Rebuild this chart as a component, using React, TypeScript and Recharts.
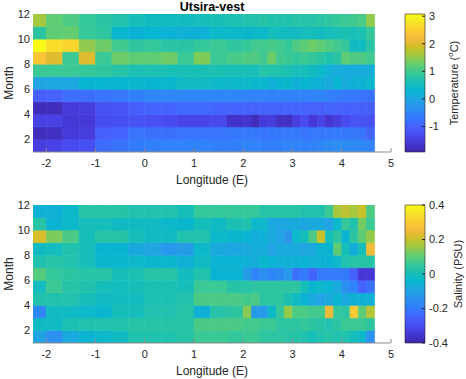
import { ComposedChart, XAxis, YAxis, ReferenceArea, Scatter } from "recharts";

// grid edges (pcolor style): 1/3 deg west of 2E, 1/6 deg east of it
const lonEdges = [
  -2.333, -2, -1.667, -1.333, -1, -0.667, -0.333, 0, 0.333, 0.667, 1, 1.333, 1.667, 2,
  2.167, 2.333, 2.5, 2.667, 2.833, 3, 3.167, 3.333, 3.5, 3.667, 3.833, 4, 4.167, 4.333, 4.5, 4.667,
];
const monthEdges = [1, 2, 3, 4, 5, 6, 7, 8, 9, 10, 11, 12];

const lonTicks = [-2, -1, 0, 1, 2, 3, 4, 5];
const monthTicks = [2, 4, 6, 8, 10, 12];
const tempTicks = [-1, 0, 1, 2, 3];
const salTicks = [-0.4, -0.2, 0, 0.2, 0.4];

const tempRange = [-1.93, 3.08];
const salRange = [-0.4, 0.4];

// rows = month 1..11, columns follow lonEdges
const temperature = [
  [-1.5, -1.45, -1.3, -1.25, -0.85, -0.75, -0.65, -0.6, -0.55, -0.55, -0.55, -0.6, -0.6, -0.55, -0.55,
    -0.6, -0.6, -0.6, -0.55, -0.55, -0.6, -0.55, -0.5, -0.45, -0.4, -0.45, -0.45, -0.5, -0.55],
  [-1.8, -1.75, -1.55, -1.5, -1.05, -0.95, -0.75, -0.8, -0.8, -0.75, -0.75, -0.75, -0.7, -0.7, -0.7,
    -0.75, -0.7, -0.7, -0.7, -0.7, -0.75, -0.7, -0.7, -0.7, -0.65, -0.7, -0.7, -0.75, -0.95],
  [-1.45, -1.45, -1.6, -1.6, -1.3, -1.25, -1.2, -1.25, -1.3, -1.4, -1.4, -1.35, -1.7, -1.65, -1.8,
    -1.55, -1.5, -1.75, -1.75, -1.5, -1.3, -1.6, -1.4, -1.65, -1.5, -1.3, -1.2, -1.2, -1.25],
  [-1.8, -1.8, -1.55, -1.5, -1.25, -1.2, -1.05, -0.95, -0.95, -0.9, -0.9, -0.95, -0.95, -1.0, -1.0,
    -0.95, -0.95, -1.0, -0.95, -0.95, -1.0, -1.0, -1.05, -0.95, -1.0, -1.0, -1.0, -1.05, -1.05],
  [-1.05, -1.0, -0.85, -0.85, -0.75, -0.7, -0.6, -0.5, -0.5, -0.5, -0.5, -0.5, -0.5, -0.55, -0.55,
    -0.55, -0.6, -0.55, -0.6, -0.55, -0.6, -0.55, -0.5, -0.6, -0.65, -0.7, -0.7, -0.75, -0.8],
  [-0.05, 0.0, 0.0, 0.3, 0.3, 0.3, 0.35, 0.3, 0.35, 0.45, 0.45, 0.4, 0.4, 0.4, 0.35,
    0.35, 0.2, 0.3, 0.35, 0.2, 0.3, 0.25, 0.2, 0.1, 0.3, 0.1, 0.2, 0.25, 0.35],
  [0.95, 0.95, 0.95, 0.9, 0.85, 0.75, 0.65, 0.65, 0.6, 0.6, 0.6, 0.65, 0.6, 0.6, 0.6,
    0.75, 0.7, 0.7, 0.65, 0.6, 0.55, 0.5, 0.4, 0.2, 0.1, 0.1, 0.1, 0.1, 0.15],
  [2.35, 2.0, 0.95, 2.0, 0.95, 1.3, 1.2, 1.2, 1.3, 0.95, 1.4, 0.95, 1.05, 1.1, 1.1,
    1.0, 1.3, 1.0, 0.95, 0.9, 0.95, 0.9, 0.8, 0.7, 0.8, 1.2, 1.1, 1.1, 1.0],
  [3.05, 2.7, 2.6, 1.5, 1.3, 1.0, 0.85, 0.9, 0.8, 0.8, 0.9, 0.95, 0.85, 0.9, 1.0,
    1.0, 1.05, 1.0, 0.9, 1.1, 1.2, 1.3, 1.2, 1.1, 1.0, 0.9, 0.45, 0.5, 0.8],
  [0.8, 1.2, 1.25, 0.9, 0.85, 0.35, 0.25, 0.3, 0.25, 0.2, 0.2, 0.4, 0.4, 0.35, 0.4,
    0.4, 0.55, 0.5, 0.5, 0.5, 0.55, 0.55, 0.5, 0.55, 0.6, 0.65, 0.6, 0.65, 0.9],
  [1.6, 1.2, 1.1, 0.9, 0.8, 0.7, 0.55, 0.5, 0.5, 0.5, 0.55, 0.6, 0.65, 0.7, 0.7,
    0.75, 0.7, 0.7, 0.7, 0.75, 0.75, 0.75, 0.8, 0.85, 0.9, 0.95, 1.0, 1.05, 1.5],
];

const salinity = [
  [-0.1, -0.15, -0.08, -0.05, -0.03, -0.02, 0.02, 0.02, 0.02, 0.03, 0.06, 0.06, 0.05, 0.06, 0.06,
    0.04, 0.04, 0.04, 0.03, 0.03, 0.02, 0.0, 0.02, 0.03, 0.02, 0.02, 0.0, -0.03, -0.15],
  [-0.02, -0.02, 0.01, 0.02, 0.02, 0.02, 0.03, 0.03, 0.03, 0.03, 0.08, 0.08, 0.08, 0.07, 0.07,
    0.06, 0.06, 0.04, 0.04, 0.04, 0.05, 0.04, 0.03, 0.02, 0.04, 0.06, 0.06, 0.06, 0.04],
  [-0.17, -0.02, -0.02, -0.03, -0.04, 0.0, 0.0, 0.02, 0.02, 0.03, -0.06, 0.03, 0.04, 0.14, -0.12,
    -0.12, -0.03, 0.05, 0.15, 0.08, 0.08, 0.07, 0.07, 0.25, 0.05, 0.04, 0.3, 0.1, 0.18],
  [0.02, 0.02, 0.02, 0.0, -0.02, -0.01, -0.01, 0.01, 0.01, 0.02, 0.08, 0.08, 0.08, 0.07, 0.08,
    0.04, 0.04, 0.04, 0.01, -0.02, -0.05, -0.08, -0.1, -0.08, -0.05, -0.08, -0.06, -0.06, -0.06],
  [-0.01, 0.06, 0.03, 0.02, 0.0, -0.01, 0.0, 0.01, 0.01, 0.0, 0.06, 0.06, 0.03, 0.03, 0.04,
    0.04, 0.04, 0.04, 0.04, 0.04, 0.0, -0.04, -0.03, -0.05, -0.08, -0.15, -0.18, -0.25, -0.22],
  [0.09, 0.05, 0.04, 0.03, 0.03, 0.0, 0.01, 0.03, 0.03, -0.01, 0.02, -0.05, -0.05, -0.12, -0.18,
    -0.15, -0.17, -0.16, -0.13, -0.22, -0.2, -0.25, -0.2, -0.2, -0.2, -0.2, -0.25, -0.35, -0.35],
  [0.02, 0.03, 0.02, 0.0, -0.04, -0.04, -0.03, -0.04, -0.04, -0.06, -0.02, -0.05, -0.05, -0.06, -0.07,
    -0.04, -0.05, -0.06, -0.06, -0.06, -0.05, -0.06, -0.06, -0.05, -0.03, 0.02, 0.03, 0.03, 0.03],
  [-0.02, -0.01, 0.02, 0.0, -0.05, -0.05, -0.08, -0.1, -0.13, -0.12, -0.03, -0.08, -0.09, -0.08, -0.07,
    -0.07, -0.1, -0.08, -0.08, -0.08, -0.09, -0.08, -0.05, -0.05, 0.1, 0.0, -0.07, 0.0, 0.25],
  [0.22, 0.13, 0.08, 0.0, 0.03, 0.03, 0.0, -0.02, -0.02, 0.02, 0.02, -0.03, -0.04, -0.05, -0.07,
    -0.06, -0.08, -0.1, -0.14, -0.03, 0.0, 0.08, 0.2, 0.0, 0.04, -0.05, 0.04, 0.1, 0.15],
  [0.03, -0.05, -0.03, 0.0, 0.0, -0.02, -0.02, -0.02, -0.03, -0.04, 0.0, -0.02, 0.01, 0.02, -0.03,
    -0.03, -0.08, -0.09, -0.08, -0.08, -0.09, -0.08, -0.08, -0.1, -0.03, 0.05, 0.02, 0.12, 0.06],
  [-0.06, -0.06, -0.03, 0.03, 0.03, 0.03, 0.02, 0.02, 0.02, 0.0, 0.05, 0.05, 0.05, 0.05, 0.05,
    0.03, 0.03, 0.03, 0.03, 0.03, 0.02, 0.02, 0.02, 0.06, 0.17, 0.19, 0.17, 0.2, 0.08],
];

// parula, sampled every 4th entry of the 64-colour table
const parula = [
  [0.2422, 0.1504, 0.6603], [0.2706, 0.2147, 0.8364], [0.2813, 0.3006, 0.9414],
  [0.2699, 0.3892, 0.9906], [0.1963, 0.4847, 0.9892], [0.1687, 0.5703, 0.9359],
  [0.1248, 0.6459, 0.8883], [0.0297, 0.7082, 0.8163], [0.0964, 0.75, 0.712],
  [0.2161, 0.7843, 0.5923], [0.3909, 0.8029, 0.4354], [0.6174, 0.7876, 0.2612],
  [0.8203, 0.7498, 0.1535], [0.9728, 0.7298, 0.2394], [0.9892, 0.8136, 0.1885],
  [0.9597, 0.9135, 0.1423], [0.9769, 0.9839, 0.0805],
];
const parulaPos = [0, 4, 8, 12, 16, 20, 24, 28, 32, 36, 40, 44, 48, 52, 56, 60, 63].map((i) => i / 63);

function parulaAt(t: number) {
  const u = Math.min(1, Math.max(0, t));
  let i = 0;
  while (i < parulaPos.length - 2 && u > parulaPos[i + 1]) i++;
  const f = (u - parulaPos[i]) / (parulaPos[i + 1] - parulaPos[i]);
  const c = parula[i].map((a, k) => Math.round((a + (parula[i + 1][k] - a) * f) * 255));
  return `rgb(${c[0]},${c[1]},${c[2]})`;
}

const FONT = "'Liberation Sans', Arial, sans-serif";
const INK = "#262626";
const tickStyle = { fontSize: 11, fill: INK, fontFamily: FONT };

function monthLabel(props: any) {
  const vb = props.viewBox || { x: 0, y: 0, height: 138 };
  const cx = vb.x + 9;
  const cy = vb.y + vb.height / 2;
  return (
    <text x={cx} y={cy} transform={`rotate(-90 ${cx} ${cy})`} textAnchor="middle"
      dominantBaseline="central" fontSize={12} fill={INK} fontFamily={FONT}>
      Month
    </text>
  );
}

function lonLabel(props: any) {
  const vb = props.viewBox || { x: 33, y: 152, width: 358 };
  return (
    <text x={vb.x + vb.width / 2} y={vb.y + 32} textAnchor="middle" fontSize={12} fill={INK} fontFamily={FONT}>
      Longitude (E)
    </text>
  );
}

function salLabel(props: any) {
  const vb = props.viewBox || { x: 0, y: 0, height: 138 };
  const cx = vb.x + 33;
  const cy = vb.y + vb.height / 2;
  return (
    <text x={cx} y={cy} transform={`rotate(-90 ${cx} ${cy})`} textAnchor="middle"
      dominantBaseline="central" fontSize={11} fill={INK} fontFamily={FONT}>
      Salinity (PSU)
    </text>
  );
}

function tempLabel(props: any) {
  const vb = props.viewBox || { x: 0, y: 0, height: 138 };
  const cx = vb.x + 29;
  const cy = vb.y + vb.height / 2;
  return (
    <text x={cx} y={cy} transform={`rotate(-90 ${cx} ${cy})`} textAnchor="middle"
      dominantBaseline="central" fontSize={11} fill={INK} fontFamily={FONT}>
      Temperature (<tspan dy={-4} fontSize={8}>o</tspan><tspan dy={4}>C)</tspan>
    </text>
  );
}

const hideShape = () => <g />;

function Heatmap({ values, range, top, height, marginTop, axisHeight }: any) {
  const cells: any[] = [];
  values.forEach((row: number[], r: number) => {
    row.forEach((v, c) => {
      cells.push({
        x1: lonEdges[c], x2: lonEdges[c + 1], y1: monthEdges[r], y2: monthEdges[r + 1],
        lon: (lonEdges[c] + lonEdges[c + 1]) / 2, month: monthEdges[r] + 0.5,
        color: parulaAt((v - range[0]) / (range[1] - range[0])),
      });
    });
  });
  return (
    <div style={{ position: "absolute", left: 0, top }}>
      <ComposedChart width={400} height={height} margin={{ top: marginTop, right: 9, bottom: 0, left: 0 }}>
        <XAxis type="number" dataKey="lon" domain={[-2.27, 5]} allowDataOverflow ticks={lonTicks}
          height={axisHeight} tick={tickStyle} tickSize={-4} tickMargin={11}
          stroke="#8a8a8a" label={lonLabel} />
        <YAxis type="number" dataKey="month" domain={[1, 12]} allowDataOverflow ticks={monthTicks}
          width={33} tick={tickStyle} tickSize={0} tickMargin={3} axisLine={false} tickLine={false}
          label={monthLabel} />
        {cells.map((d, i) => (
          <ReferenceArea key={i} x1={d.x1} x2={d.x2} y1={d.y1} y2={d.y2} ifOverflow="hidden"
            fill={d.color} fillOpacity={1} stroke={d.color} strokeWidth={0.6} />
        ))}
        <Scatter data={cells} shape={hideShape} isAnimationActive={false} />
      </ComposedChart>
    </div>
  );
}

function Colorbar({ id, range, ticks, label, top, height, marginTop, marginBottom }: any) {
  const stops = ticks.map((t: number) => ({ pos: 0.5, val: t }));
  return (
    <div style={{ position: "absolute", left: 395, top }}>
      <ComposedChart width={71} height={height} margin={{ top: marginTop, right: 0, bottom: marginBottom, left: 10 }}>
        <defs>
          <linearGradient id={id} x1="0" y1="1" x2="0" y2="0">
            {parula.map((c, i) => (
              <stop key={i} offset={parulaPos[i]}
                stopColor={`rgb(${Math.round(c[0] * 255)},${Math.round(c[1] * 255)},${Math.round(c[2] * 255)})`} />
            ))}
          </linearGradient>
        </defs>
        <XAxis type="number" dataKey="pos" domain={[0, 1]} hide allowDataOverflow />
        <ReferenceArea x1={0} x2={1} y1={range[0]} y2={range[1]} fill={`url(#${id})`} fillOpacity={1}
          stroke={INK} strokeWidth={0.6} ifOverflow="visible" />
        <YAxis type="number" dataKey="val" orientation="right" domain={range} allowDataOverflow ticks={ticks}
          width={41} tick={tickStyle} tickSize={-3} tickMargin={7} axisLine={false}
          tickLine={{ stroke: INK }} label={label} />
        <Scatter data={stops} shape={hideShape} isAnimationActive={false} />
      </ComposedChart>
    </div>
  );
}

export default function App() {
  return (
    <div style={{ position: "absolute", left: 0, top: 0, width: 466, height: 379, background: "#fff", fontFamily: FONT }}>
      <Heatmap values={temperature} range={tempRange} top={0} height={190} marginTop={14} axisHeight={38} />
      <Heatmap values={salinity} range={salRange} top={190} height={189} marginTop={15} axisHeight={36} />
      <Colorbar id="gradTemp" range={tempRange} ticks={tempTicks} label={tempLabel}
        top={0} height={190} marginTop={14} marginBottom={38} />
      <Colorbar id="gradSal" range={salRange} ticks={salTicks} label={salLabel}
        top={190} height={189} marginTop={15} marginBottom={36} />
      <div style={{ position: "absolute", left: 33, top: 0, width: 358, textAlign: "center", fontWeight: "bold",
        fontSize: 12.5, lineHeight: "14px", color: "#000" }}>
        Utsira-vest
      </div>
    </div>
  );
}
